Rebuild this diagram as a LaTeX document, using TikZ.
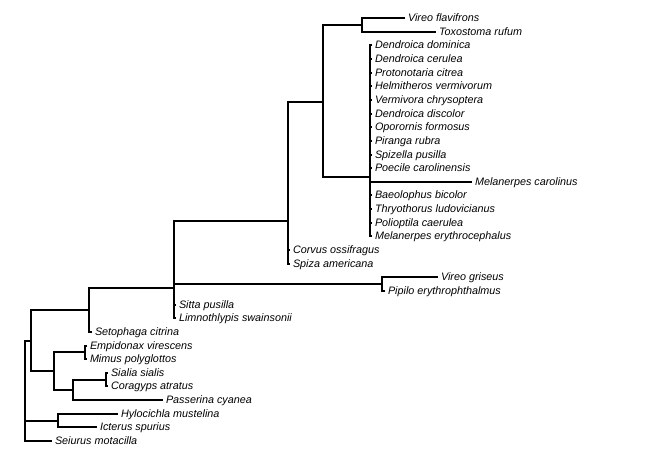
\documentclass[tikz,border=0pt]{standalone}
\usepackage{fontspec}
\setmainfont{Liberation Sans}
\begin{document}
\begin{tikzpicture}[x=1pt,y=-1pt,
  br/.style={line width=2pt},
  lab/.style={anchor=west, inner xsep=3pt, inner ysep=0pt, outer sep=0pt,
    font=\fontsize{10.8}{12}\selectfont\itshape, text height=8.4pt, text depth=2pt}]
\useasboundingbox (0,0) rectangle (645,461);

% ---- internal nodes (x = depth, y = attachment height)
\coordinate (A) at (362,25);
\coordinate (B) at (370,177);
\coordinate (C) at (323,102);
\coordinate (D) at (288,221);
\coordinate (E) at (382,284);
\coordinate (F) at (174,288);
\coordinate (G) at (89,310);
\coordinate (H) at (85,352);
\coordinate (I) at (106,380);
\coordinate (J) at (73,390);
\coordinate (K) at (54,371);
\coordinate (L) at (31,341);
\coordinate (M) at (58,421);
\coordinate (R) at (25,391);

% ---- tips
\coordinate (t1) at (405,18);
\coordinate (t2) at (436,32);
\coordinate (t3) at (372,45);
\coordinate (t4) at (372,59);
\coordinate (t5) at (372,73);
\coordinate (t6) at (372,86);
\coordinate (t7) at (372,100);
\coordinate (t8) at (372,114);
\coordinate (t9) at (372,127);
\coordinate (t10) at (372,141);
\coordinate (t11) at (372,155);
\coordinate (t12) at (372,168);
\coordinate (t13) at (472,182);
\coordinate (t14) at (372,195);
\coordinate (t15) at (372,209);
\coordinate (t16) at (372,223);
\coordinate (t17) at (372,236);
\coordinate (t18) at (290,250);
\coordinate (t19) at (290,264);
\coordinate (t20) at (438,277);
\coordinate (t21) at (385,291);
\coordinate (t22) at (176,305);
\coordinate (t23) at (176,318);
\coordinate (t24) at (92,332);
\coordinate (t25) at (87,346);
\coordinate (t26) at (87,359);
\coordinate (t27) at (108,373);
\coordinate (t28) at (108,386);
\coordinate (t29) at (163,400);
\coordinate (t30) at (118,414);
\coordinate (t31) at (97,427);
\coordinate (t32) at (52,441);

% ---- tip labels
\node[lab] (n1) at (t1) {Vireo flavifrons};
\node[lab] (n2) at (t2) {Toxostoma rufum};
\node[lab] (n3) at (t3) {Dendroica dominica};
\node[lab] (n4) at (t4) {Dendroica cerulea};
\node[lab] (n5) at (t5) {Protonotaria citrea};
\node[lab] (n6) at (t6) {Helmitheros vermivorum};
\node[lab] (n7) at (t7) {Vermivora chrysoptera};
\node[lab] (n8) at (t8) {Dendroica discolor};
\node[lab] (n9) at (t9) {Oporornis formosus};
\node[lab] (n10) at (t10) {Piranga rubra};
\node[lab] (n11) at (t11) {Spizella pusilla};
\node[lab] (n12) at (t12) {Poecile carolinensis};
\node[lab] (n13) at (t13) {Melanerpes carolinus};
\node[lab] (n14) at (t14) {Baeolophus bicolor};
\node[lab] (n15) at (t15) {Thryothorus ludovicianus};
\node[lab] (n16) at (t16) {Polioptila caerulea};
\node[lab] (n17) at (t17) {Melanerpes erythrocephalus};
\node[lab] (n18) at (t18) {Corvus ossifragus};
\node[lab] (n19) at (t19) {Spiza americana};
\node[lab] (n20) at (t20) {Vireo griseus};
\node[lab] (n21) at (t21) {Pipilo erythrophthalmus};
\node[lab] (n22) at (t22) {Sitta pusilla};
\node[lab] (n23) at (t23) {Limnothlypis swainsonii};
\node[lab] (n24) at (t24) {Setophaga citrina};
\node[lab] (n25) at (t25) {Empidonax virescens};
\node[lab] (n26) at (t26) {Mimus polyglottos};
\node[lab] (n27) at (t27) {Sialia sialis};
\node[lab] (n28) at (t28) {Coragyps atratus};
\node[lab] (n29) at (t29) {Passerina cyanea};
\node[lab] (n30) at (t30) {Hylocichla mustelina};
\node[lab] (n31) at (t31) {Icterus spurius};
\node[lab] (n32) at (t32) {Seiurus motacilla};

% ---- branches
\draw[br] (A) |- (t1);  \draw[br] (A) |- (t2);
\foreach \k in {3,...,17} { \draw[br] (B) |- (t\k); }
\draw[br] (C) |- (A);   \draw[br] (C) |- (B);
\draw[br] (D) |- (C);   \draw[br] (D) |- (t18);  \draw[br] (D) |- (t19);
\draw[br] (E) |- (t20); \draw[br] (E) |- (t21);
\draw[br] (F) |- (D);   \draw[br] (F) |- (E);
\draw[br] (F) |- (t22); \draw[br] (F) |- (t23);
\draw[br] (G) |- (F);   \draw[br] (G) |- (t24);
\draw[br] (H) |- (t25); \draw[br] (H) |- (t26);
\draw[br] (I) |- (t27); \draw[br] (I) |- (t28);
\draw[br] (J) |- (I);   \draw[br] (J) |- (t29);
\draw[br] (K) |- (H);   \draw[br] (K) |- (J);
\draw[br] (L) |- (G);   \draw[br] (L) |- (K);
\draw[br] (M) |- (t30); \draw[br] (M) |- (t31);
\draw[br] (R) |- (L);   \draw[br] (R) |- (M);   \draw[br] (R) |- (t32);
\end{tikzpicture}
\end{document}
